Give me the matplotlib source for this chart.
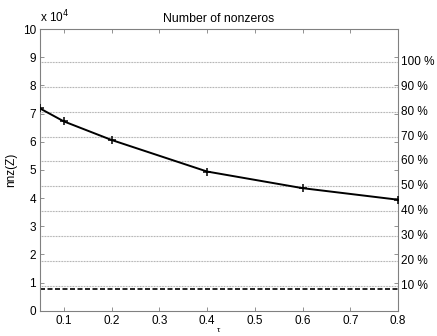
import numpy as np
import matplotlib.pyplot as plt

plt.rcParams['font.family'] = ['Liberation Sans', 'DejaVu Sans']

# data
tau = [0.05, 0.1, 0.2, 0.4, 0.6, 0.8]
nnz = [71800, 67200, 60600, 49400, 43500, 39400]
total = 88300          # value for 100 %
dashed_level = 7800
pct = [10, 20, 30, 40, 50, 60, 70, 80, 90, 100]

fig = plt.figure(figsize=(4.37, 3.36), dpi=100)
ax = fig.add_axes([40 / 437, 1 - 310.7 / 336, 358 / 437, 281.7 / 336])

for p in pct:
    ax.axhline(total * p / 100, color='#a0a0a0', linestyle=(0, (0.7, 0.7)), linewidth=0.8, zorder=1)
ax.axhline(dashed_level, color='black', linestyle=(0, (3, 1.5)), linewidth=1.2, zorder=2)

ax.plot(tau, nnz, color='black', linewidth=1.4, marker='+', markersize=6,
        markeredgewidth=1.1, zorder=3)

ax.set_xlim(0.05, 0.8)
ax.set_ylim(0, 100000)
ax.set_xticks([0.1, 0.2, 0.3, 0.4, 0.5, 0.6, 0.7, 0.8])
ax.set_xticklabels(['0.1', '0.2', '0.3', '0.4', '0.5', '0.6', '0.7', '0.8'])
ax.set_yticks(np.arange(0, 100001, 10000))
ax.set_yticklabels([str(i) for i in range(11)])
ax.tick_params(direction='in', length=3, width=0.6, colors='#808080',
               labelcolor='black', labelsize=8.5, top=True, right=True, pad=3)
for s in ax.spines.values():
    s.set_color('#808080')
    s.set_linewidth(0.8)

# percentage labels on the right
for p in pct:
    ax.text(1.008, total * p / 100, '%d %%' % p, transform=ax.get_yaxis_transform(),
            ha='left', va='center', fontsize=8.5)

ax.text(0.0, 1.012, r'x 10$^{4}$', transform=ax.transAxes, ha='left', va='bottom', fontsize=8.5)
ax.set_title('Number of nonzeros', fontsize=8.8, pad=5)
ax.set_ylabel('nnz(Z)', fontsize=8.5, labelpad=4)
ax.set_xlabel('τ', fontsize=6, labelpad=0)

fig.savefig('out.png', dpi=100)
